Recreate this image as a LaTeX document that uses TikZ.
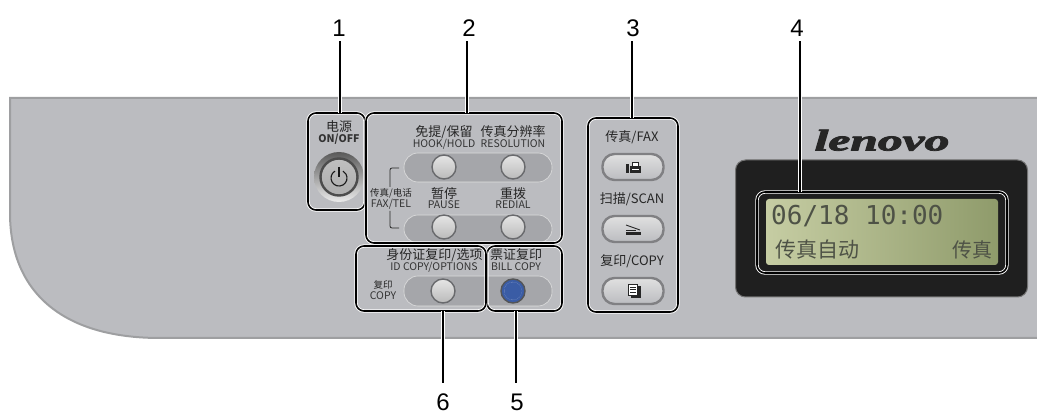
\documentclass[tikz,border=0pt]{standalone}
\usepackage{fontspec}
\setmainfont{Liberation Sans}
\newfontfamily\cjk{Noto Sans CJK SC}
\newfontfamily\lcdmono{DejaVu Sans Mono}
\newfontfamily\logofont[BoldItalicFeatures={FakeBold=2.5}]{Liberation Serif}
\usetikzlibrary{positioning}
\definecolor{panelgray}{RGB}{187,188,192}
\definecolor{paneledge}{RGB}{158,159,161}
\definecolor{trackgray}{RGB}{165,166,170}
\definecolor{ringgray}{RGB}{105,106,109}
\definecolor{bluekey}{RGB}{58,92,165}
\definecolor{lcdtext}{RGB}{78,82,70}
\definecolor{lcdleft}{RGB}{198,205,163}
\definecolor{lcdright}{RGB}{143,155,107}
\tikzset{
  numlabel/.style={font=\fontsize{24}{24}\selectfont, inner sep=0pt},
  numup/.style={numlabel, outer sep=5pt},
  numdown/.style={numlabel, outer sep=11pt},
  cnbig/.style={font=\cjk\fontsize{13}{13}\selectfont, text=black!85, inner sep=0pt},
  cnsmall/.style={font=\cjk\fontsize{9.5}{10}\selectfont, text=black!85, inner sep=0pt},
  enlabel/.style={font=\cjk\fontsize{10.5}{11}\selectfont, text=black!80, inner sep=0pt},
  callout/.style={draw=black, line width=1.6pt, rounded corners=8pt, inner sep=0pt,
    preaction={draw=white, line width=3.4pt}},
  leader/.style={draw=black, line width=1.8pt, preaction={draw=white, line width=3.4pt}},
  track/.style={fill=trackgray, draw=white!75!gray, line width=0.6pt, rounded corners=14pt, inner sep=0pt},
  roundkey/.style={circle, draw=ringgray, line width=1.4pt, minimum size=24pt, inner sep=0pt,
    top color=black!10, bottom color=black!27},
  modekey/.style={draw=ringgray!85, line width=2.4pt, rounded corners=12pt, minimum width=61pt,
    minimum height=26pt, inner sep=0pt, top color=black!12, bottom color=panelgray},
}
\begin{document}
\begin{tikzpicture}[x=1pt,y=-1pt]
\useasboundingbox (0,0) rectangle (1037,414);
% panel
\draw [fill=panelgray, draw=paneledge, line width=2pt] (1038,98) -- (10,98) -- (10,213) .. controls (10,290) and (60,338) .. (160,338) -- (1038,338);

% rows of keys
\node [track, minimum width=148pt, minimum height=29pt] (rowa) at (478,167.5) {};
\node [track, minimum width=148pt, minimum height=28pt] (rowb) at (478,229) {};
\node [track, minimum width=148pt, minimum height=30pt] (rowc) at (478,291) {};
\node [roundkey] (hook) at (444,167) {};
\node [roundkey] (resol) at (513,167) {};
\node [roundkey] (pause) at (444,227) {};
\node [roundkey] (redial) at (513,227) {};
\node [roundkey] (idcopy) at (443,291) {};
\node [roundkey, draw=ringgray!80!black, top color=bluekey, bottom color=bluekey] (bill) at (513,291) {};
\draw [white!65!bluekey, line width=0.3pt, densely dotted] (bill) circle [radius=9];

% on/off key
\node [circle, minimum size=50pt, inner sep=0pt, top color=black!65, bottom color=black!8] (powerout) at (339,177) {};
\node [circle, minimum size=37pt, inner sep=0pt, draw=black!70, line width=2.4pt, top color=black!25, bottom color=black!32] (power) at (339,177) {};
\draw [black!90, line width=1.1pt] (335,171.1) arc [start angle=-120, end angle=-420, radius=8];
\draw [black!90, line width=1.1pt] (339,167) -- (339,177);

% bracket of fax/tel
\draw [black!85, line width=0.8pt, rounded corners=2pt] (399,168) -- (390,168) -- (390,187);
\draw [black!85, line width=0.8pt, rounded corners=2pt] (390,211) -- (390,228) -- (399,228);

% texts on the keys
\node [cnbig] (txtpowera) at (339,127) {电源};
\node [enlabel, font=\cjk\bfseries\fontsize{10.5}{11}\selectfont] (txtpowerb) at (339,139) {ON/OFF};
\node [cnbig] (txthooka) at (444,132) {免提/保留};
\node [enlabel] (txthookb) at (444,144) {HOOK/HOLD};
\node [cnbig] (txtresola) at (513,132) {传真分辨率};
\node [enlabel] (txtresolb) at (513,144) {RESOLUTION};
\node [cnsmall] (txtfaxa) at (391,193) {传真/电话};
\node [enlabel] (txtfaxb) at (391,204) {FAX/TEL};
\node [cnbig] (txtpausea) at (444,194) {暂停};
\node [enlabel] (txtpauseb) at (444,205) {PAUSE};
\node [cnbig] (txtredialA) at (513,194) {重拨};
\node [enlabel] (txtredialB) at (513,205) {REDIAL};
\node [cnbig] (txtida) at (434.5,255) {身份证复印/选项};
\node [enlabel] (txtidb) at (434,267) {ID COPY/OPTIONS};
\node [cnsmall] (txtcopya) at (383,285) {复印};
\node [enlabel] (txtcopyb) at (383,296) {COPY};
\node [cnbig] (txtbilla) at (516,255) {票证复印};
\node [enlabel] (txtbillb) at (516,267) {BILL COPY};

% mode keys
\node [cnbig] (txtfax) at (632,137) {传真/FAX};
\node [modekey] (modefax) at (633,167) {};
\node [cnbig] (txtscan) at (632,199) {扫描/SCAN};
\node [modekey] (modescan) at (633,229) {};
\node [cnbig] (txtcopy) at (632,261) {复印/COPY};
\node [modekey] (modecopy) at (633,291) {};
\draw [fill=black!85, draw=none] (626,164) rectangle (629,173); % fax
\draw [fill=black!85, draw=none] (630,166) rectangle (641,173);
\draw [fill=white, draw=black!85, line width=0.8pt] (632.5,162.5) rectangle (638.5,166.5);
\draw [white, line width=0.8pt] (632,169.5) -- (639,169.5);
\draw [black!85, line width=0.9pt] (626,225) -- (640,230); % scan
\draw [black!85, line width=0.8pt] (626,230.5) -- (636,230.5);
\draw [fill=black!85, draw=none] (626,232) rectangle (641,235.5);
\draw [fill=black!85, draw=none] (631,286) rectangle (641,298); % copy
\draw [fill=white, draw=black!85, line width=0.9pt] (628,284) rectangle (637.5,295);
\draw [black!85, line width=0.6pt] (630,287) -- (635.5,287) (630,289.5) -- (635.5,289.5) (630,292) -- (635.5,292);

% logo and display
\node [font=\logofont\bfseries\itshape\fontsize{30}{30}\selectfont, xscale=1.65, text=black!85, inner sep=0pt, anchor=base] (logo) at (882,150.5) {lenovo};
\node [fill=black!88, draw=black!55, line width=1pt, rounded corners=10pt, minimum width=292pt, minimum height=137pt, inner sep=0pt] (lcdcase) at (881.5,228.5) {};
\node [left color=lcdleft, right color=lcdright, rounded corners=3pt, minimum width=232pt, minimum height=66pt, inner sep=0pt] (lcd) at (882,232) {};
\node [font=\lcdmono\fontsize{26}{26}\selectfont, text=lcdtext, anchor=west, inner sep=0pt] (lcdtime) at (771,216) {06/18 10:00};
\node [font=\cjk\fontsize{21}{21}\selectfont, text=lcdtext, anchor=west, inner sep=0pt] (lcdmode) at (775,250) {传真自动};
\node [font=\cjk\fontsize{20}{20}\selectfont, text=lcdtext, anchor=east, inner sep=0pt] (lcdfax) at (993,250) {传真};

% call-outs
\node [callout, minimum width=57pt, minimum height=97pt] (frmone) at (336.5,161.5) {};
\node [callout, minimum width=196pt, minimum height=130pt] (frmtwo) at (464,178) {};
\node [callout, minimum width=90pt, minimum height=194pt] (frmthree) at (633,215) {};
\node [callout, minimum width=250pt, minimum height=81pt] (frmfour) at (882,232.5) {};
\node [callout, minimum width=75pt, minimum height=65pt] (frmfive) at (524.5,278.5) {};
\node [callout, minimum width=130pt, minimum height=65pt] (frmsix) at (421,278.5) {};

\node [numup] (numone) at (339,28) {1};
\node [numup] (numtwo) at (469,28) {2};
\node [numup] (numthree) at (633,28) {3};
\node [numup] (numfour) at (797,28) {4};
\node [numdown] (numfive) at (517,402) {5};
\node [numdown] (numsix) at (443,402) {6};

\coordinate (endone) at (340,113);
\coordinate (endtwo) at (467,113);
\coordinate (endthree) at (632,118);
\coordinate (endfour) at (800,192);
\coordinate (endfive) at (516,311);
\coordinate (endsix) at (443,311);
\draw [leader] (numone.south -| endone) -- (endone);
\draw [leader] (numtwo.south -| endtwo) -- (endtwo);
\draw [leader] (numthree.south -| endthree) -- (endthree);
\draw [leader] (numfour.south -| endfour) -- (endfour);
\draw [leader] (numfive.north -| endfive) -- (endfive);
\draw [leader] (numsix.north -| endsix) -- (endsix);
\end{tikzpicture}
\end{document}
